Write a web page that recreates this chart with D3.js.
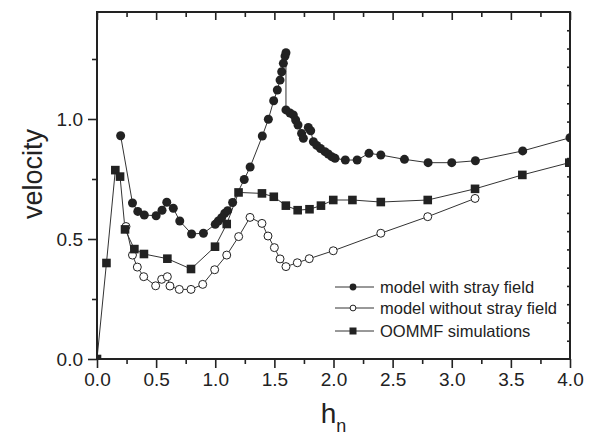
<!DOCTYPE html>
<style>
body { margin: 0; background: #fff; }
text { font-family: "Liberation Sans", Arial, sans-serif; fill: #222; }
</style>
<svg width="594" height="436"></svg>
<script src="https://d3js.org/d3.v7.min.js"></script>
<script>

// model with stray field
var hnWith = [0.2, 0.3, 0.345, 0.4, 0.5, 0.55, 0.59, 0.645, 0.7, 0.8, 0.9, 1.0, 1.026, 1.054, 1.08, 1.105, 1.147,
  1.245, 1.295, 1.398, 1.449, 1.494, 1.525, 1.548, 1.562, 1.576, 1.59, 1.598, 1.598, 1.632, 1.66, 1.68, 1.70,
  1.73, 1.745, 1.787, 1.807, 1.83, 1.858, 1.89, 1.928, 1.956, 1.985, 2.013, 2.1, 2.2, 2.3, 2.4, 2.6, 2.8, 3.0,
  3.2, 3.6, 4.0];
var vWith = [0.93, 0.65, 0.615, 0.60, 0.597, 0.62, 0.653, 0.628, 0.575, 0.521, 0.524, 0.561, 0.575, 0.589, 0.607, 0.618, 0.652,
  0.748, 0.80, 0.929, 0.999, 1.076, 1.121, 1.162, 1.197, 1.232, 1.262, 1.276, 1.038, 1.025, 1.017, 0.996, 0.975,
  0.94, 0.92, 0.965, 0.951, 0.905, 0.89, 0.877, 0.864, 0.854, 0.843, 0.836, 0.829, 0.829, 0.857, 0.85, 0.832, 0.818, 0.818,
  0.826, 0.867, 0.922];

// model without stray field
var hnWithout = [0.245, 0.3, 0.341, 0.395, 0.496, 0.547, 0.595, 0.617, 0.696, 0.795, 0.894, 0.995, 1.097, 1.198,
  1.294, 1.395, 1.446, 1.5, 1.548, 1.598, 1.694, 1.795, 1.998, 2.4, 2.797, 3.197];
var vWithout = [0.552, 0.433, 0.383, 0.343, 0.305, 0.332, 0.343, 0.304, 0.29, 0.29, 0.311, 0.372, 0.433, 0.51,
  0.59, 0.565, 0.5125, 0.464, 0.417, 0.385, 0.401, 0.418, 0.451, 0.524, 0.593, 0.669];

// OOMMF simulations
var hnOommf = [0, 0.08, 0.155, 0.195, 0.237, 0.316, 0.397, 0.595, 0.795, 0.998, 1.097, 1.197, 1.395, 1.495,
  1.597, 1.697, 1.797, 1.894, 1.998, 2.16, 2.4, 2.797, 3.197, 3.597, 3.994];
var vOommf = [0, 0.40, 0.787, 0.76, 0.54, 0.458, 0.4375, 0.418, 0.375, 0.468, 0.5625, 0.694, 0.69, 0.676,
  0.639, 0.62, 0.624, 0.639, 0.6625, 0.6625, 0.654, 0.6625, 0.709, 0.767, 0.818];

var xTicks = [0, 0.5, 1.0, 1.5, 2.0, 2.5, 3.0, 3.5, 4.0];
var yTicks = [0, 0.5, 1.0];
var seriesNames = ["model with stray field", "model without stray field", "OOMMF simulations"];

var svg = d3.select("svg"),
    margin = {top: 12, right: 24, bottom: 77, left: 97},
    width = +svg.attr("width") - margin.left - margin.right,
    height = +svg.attr("height") - margin.top - margin.bottom,
    g = svg.append("g").attr("transform", "translate(" + margin.left + "," + margin.top + ")");

var x = d3.scaleLinear().domain([0, 4]).range([0, width]);
var y = d3.scaleLinear().domain([0, height / 240]).range([height, 0]);

var ink = "#222";

g.append("clipPath").attr("id", "plot")
  .append("rect").attr("width", width).attr("height", height);

function zip(hs, vs) { return hs.map(function(h, i) { return [h, vs[i]]; }); }

var series = [
  {name: seriesNames[0], pts: zip(hnWith, vWith), shape: "dot"},
  {name: seriesNames[1], pts: zip(hnWithout, vWithout), shape: "ring"},
  {name: seriesNames[2], pts: zip(hnOommf, vOommf), shape: "square"}
];

var line = d3.line().x(function(d) { return x(d[0]); }).y(function(d) { return y(d[1]); });

function marker(sel, shape, size) {
  if (shape === "square") {
    sel.append("rect")
      .attr("x", -size).attr("y", -size)
      .attr("width", size * 2).attr("height", size * 2)
      .attr("fill", ink);
  } else {
    sel.append("circle")
      .attr("r", shape === "ring" ? size - 0.5 : size)
      .attr("fill", shape === "ring" ? "#fff" : ink)
      .attr("stroke", ink)
      .attr("stroke-width", shape === "ring" ? 1 : 0);
  }
}

var plot = g.append("g").attr("clip-path", "url(#plot)");

series.forEach(function(s) {
  plot.append("path")
    .attr("d", line(s.pts))
    .attr("fill", "none")
    .attr("stroke", "#333")
    .attr("stroke-width", 1);
});

series.forEach(function(s) {
  plot.selectAll(null)
    .data(s.pts)
    .enter().append("g")
      .attr("transform", function(d) { return "translate(" + x(d[0]) + "," + y(d[1]) + ")"; })
      .each(function() { marker(d3.select(this), s.shape, s.shape === "square" ? 4.3 : 4.5); });
});

// axes
var xMinor = d3.range(0.25, 4, 0.5);
var yMinor = [0.25, 0.75, 1.25];

function styleAxis(a) {
  a.selectAll(".domain").remove();
  a.selectAll("line").attr("stroke", ink).attr("stroke-width", 1.6);
  a.selectAll("text").attr("font-size", 19).attr("fill", ink)
    .attr("font-family", "Liberation Sans, Arial, sans-serif");
}

g.append("g")
    .attr("transform", "translate(0," + height + ")")
    .call(d3.axisBottom(x).tickValues(xTicks).tickFormat(d3.format(".1f")).tickSize(9).tickPadding(5))
    .call(styleAxis);
g.append("g")
    .attr("transform", "translate(0," + height + ")")
    .call(d3.axisBottom(x).tickValues(xMinor).tickFormat("").tickSize(5))
    .call(styleAxis);

g.append("g")
    .call(d3.axisLeft(y).tickValues(yTicks).tickFormat(d3.format(".1f")).tickSize(9).tickPadding(5))
    .call(styleAxis);
g.append("g")
    .call(d3.axisLeft(y).tickValues(yMinor).tickFormat("").tickSize(5))
    .call(styleAxis);

// top axis: inward ticks
g.append("g")
    .call(d3.axisTop(x).tickValues(xTicks).tickFormat("").tickSize(-8))
    .call(styleAxis);
g.append("g")
    .call(d3.axisTop(x).tickValues(xMinor).tickFormat("").tickSize(-5))
    .call(styleAxis);

// right axis: small inward ticks, 19 steps
var r = d3.scaleLinear().domain([0, 19]).range([height, 0]);
g.append("g")
    .attr("transform", "translate(" + width + ",0)")
    .call(d3.axisRight(r).tickValues(d3.range(1, 19)).tickFormat("").tickSize(-3))
    .call(styleAxis);

g.append("rect")
    .attr("width", width).attr("height", height)
    .attr("fill", "none").attr("stroke", ink).attr("stroke-width", 2);

// axis titles
svg.append("text")
    .attr("transform", "translate(42,174) rotate(-90)")
    .attr("text-anchor", "middle")
    .attr("font-size", 27)
    .text("velocity");

var xt = svg.append("text")
    .attr("x", margin.left + width / 2)
    .attr("y", 423)
    .attr("text-anchor", "middle")
    .attr("font-size", 28);
xt.append("tspan").text("h");
xt.append("tspan").attr("font-size", 18).attr("dy", 9).text("n");

// legend
var legendY = [287, 308, 331];
var legend = svg.append("g")
  .selectAll("g")
  .data(series)
  .enter().append("g")
    .attr("transform", function(d, i) { return "translate(335," + legendY[i] + ")"; });

legend.append("line")
    .attr("x1", 0).attr("x2", 39)
    .attr("stroke", "#333").attr("stroke-width", 1);
legend.each(function(d) {
  var m = d3.select(this).append("g").attr("transform", "translate(18,0)");
  marker(m, d.shape, d.shape === "square" ? 3.5 : 3.4);
});
legend.append("text")
    .attr("x", 45)
    .attr("dy", "0.35em")
    .attr("font-size", 16.5)
    .text(function(d) { return d.name; });

</script>
